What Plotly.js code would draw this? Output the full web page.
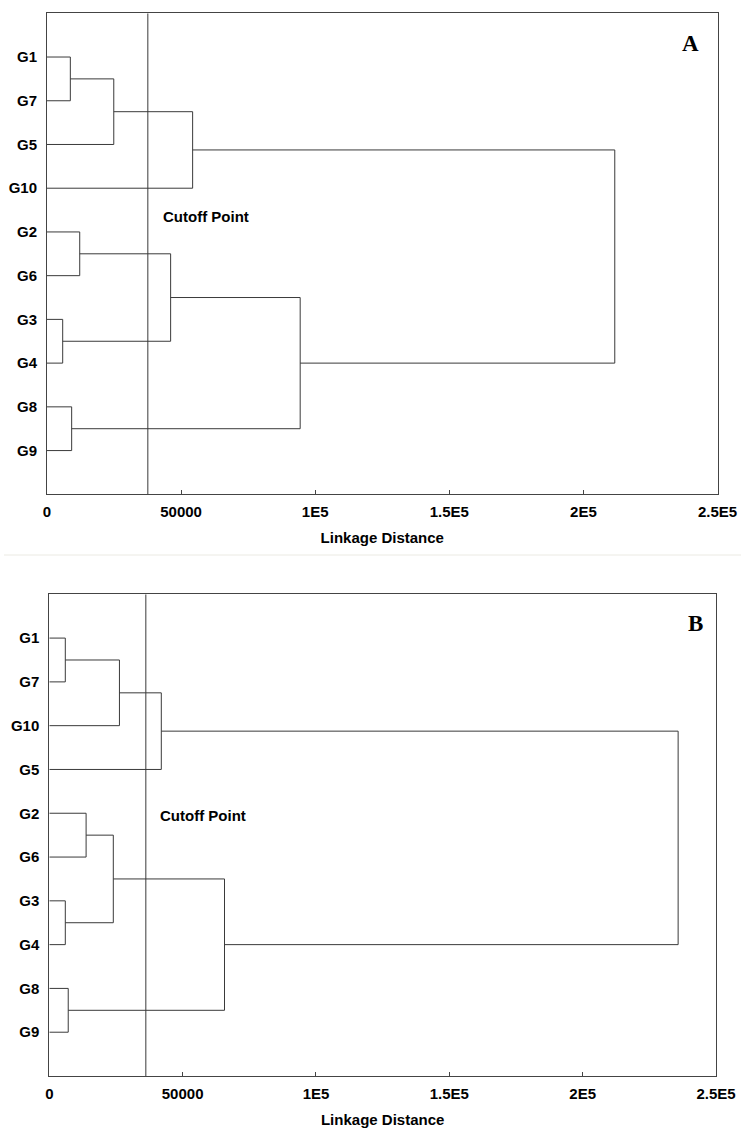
<!DOCTYPE html>
<html>
<head>
<meta charset="utf-8">
<script src="https://cdn.plot.ly/plotly-3.0.1.min.js"></script>
<style>html,body{margin:0;padding:0;background:#fff;}#chart{width:741px;height:1130px;}</style>
</head>
<body>
<div id="chart"></div>
<script>
// ---- Panel A data ----
const leavesA = ['G1','G7','G5','G10','G2','G6','G3','G4','G8','G9'];
const mergeLeftA  = ['G1','A1','A2','G2','G3','A4','G8','A6','A3'];
const mergeRightA = ['G7','G5','G10','G6','G4','A5','G9','A7','A8'];
const mergeHeightA = [8700, 24900, 54300, 12200, 5850, 46100, 9200, 94400, 211700];
const cutoffA = 37600;

// ---- Panel B data ----
const leavesB = ['G1','G7','G10','G5','G2','G6','G3','G4','G8','G9'];
const mergeLeftB  = ['G1','B1','B2','G2','G3','B4','G8','B6','B3'];
const mergeRightB = ['G7','G10','G5','G6','G4','B5','G9','B7','B8'];
const mergeHeightB = [6000, 26300, 42000, 13800, 6000, 24000, 7100, 65700, 235800];
const cutoffB = 36200;

const xTickVals = [0, 50000, 100000, 150000, 200000, 250000];
const xTickText = ['0', '50000', '1E5', '1.5E5', '2E5', '2.5E5'];
const xTitle = 'Linkage Distance';
const cutoffLabel = 'Cutoff Point';
const panelLabels = ['A', 'B'];

function dendro(leaves, lefts, rights, heights, prefix) {
  const pos = {};
  leaves.forEach((n, i) => { pos[n] = {y: i + 1, h: 0}; });
  const xs = [], ys = [];
  for (let k = 0; k < heights.length; k++) {
    const a = pos[lefts[k]], b = pos[rights[k]], h = heights[k];
    xs.push(a.h, h, h, b.h, null);
    ys.push(a.y, a.y, b.y, b.y, null);
    pos[prefix + (k + 1)] = {y: (a.y + b.y) / 2, h: h};
  }
  return {xs, ys};
}

const dA = dendro(leavesA, mergeLeftA, mergeRightA, mergeHeightA, 'A');
const dB = dendro(leavesB, mergeLeftB, mergeRightB, mergeHeightB, 'B');

const lineStyle = {color: '#3a3a3a', width: 1};
const nLeaf = leavesA.length;

const traces = [
  {x: dA.xs, y: dA.ys, xaxis: 'x', yaxis: 'y', mode: 'lines', line: lineStyle, hoverinfo: 'skip', showlegend: false},
  {x: [cutoffA, cutoffA], y: [0, nLeaf + 1], xaxis: 'x', yaxis: 'y', mode: 'lines', line: lineStyle, hoverinfo: 'skip', showlegend: false},
  {x: dB.xs, y: dB.ys, xaxis: 'x2', yaxis: 'y2', mode: 'lines', line: lineStyle, hoverinfo: 'skip', showlegend: false},
  {x: [cutoffB, cutoffB], y: [0, nLeaf + 1], xaxis: 'x2', yaxis: 'y2', mode: 'lines', line: lineStyle, hoverinfo: 'skip', showlegend: false}
];

const W = 741, H = 1130;
const tickFont = {family: 'Arial, "Liberation Sans", sans-serif', size: 15, color: '#000', weight: 'bold'};

function xaxis(l, r, anchor) {
  return {
    domain: [l / W, r / W], anchor: anchor, range: [0, 250000],
    tickvals: xTickVals, ticktext: xTickText,
    ticks: 'inside', ticklen: 4, tickcolor: '#444', tickwidth: 1,
    showline: true, linecolor: '#444', linewidth: 1, mirror: true,
    showgrid: false, zeroline: false, tickfont: tickFont,
    ticklabelstandoff: 4,
    title: {text: xTitle, font: tickFont, standoff: 13}
  };
}
function yaxis(top, bottom, anchor, leaves) {
  return {
    domain: [1 - bottom / H, 1 - top / H], anchor: anchor, range: [leaves.length + 1, 0],
    tickvals: leaves.map((_, i) => i + 1), ticktext: leaves,
    ticks: '', showline: true, linecolor: '#444', linewidth: 1, mirror: true,
    showgrid: false, zeroline: false, tickfont: tickFont, ticklabelstandoff: 6
  };
}

const layout = {
  width: W, height: H,
  margin: {l: 0, r: 0, t: 0, b: 0},
  paper_bgcolor: '#fff', plot_bgcolor: '#fff',
  showlegend: false,
  xaxis: xaxis(47, 717.5, 'y'),
  yaxis: yaxis(13.3, 494.3, 'x', leavesA),
  xaxis2: xaxis(49.3, 716, 'y2'),
  yaxis2: yaxis(594.3, 1076, 'x2', leavesB),
  shapes: [
    {type: 'line', xref: 'paper', yref: 'paper', x0: 4 / W, x1: 1, y0: 1 - 555 / H, y1: 1 - 555 / H,
     line: {color: '#ebeae3', width: 1}}
  ],
  annotations: [
    {xref: 'x', yref: 'y', x: 42500, y: 4.65, text: cutoffLabel, showarrow: false, xanchor: 'left', yanchor: 'middle', font: tickFont},
    {xref: 'x2', yref: 'y2', x: 40800, y: 5.06, text: cutoffLabel, showarrow: false, xanchor: 'left', yanchor: 'middle', font: tickFont},
    {xref: 'paper', yref: 'paper', x: 690.7 / W, y: 1 - 44 / H, text: panelLabels[0], showarrow: false, xanchor: 'center', yanchor: 'middle',
     font: {family: '"Times New Roman", "Liberation Serif", serif', size: 23, color: '#000', weight: 'bold'}},
    {xref: 'paper', yref: 'paper', x: 695 / W, y: 1 - 623.7 / H, text: panelLabels[1], showarrow: false, xanchor: 'center', yanchor: 'middle',
     font: {family: '"Times New Roman", "Liberation Serif", serif', size: 23, color: '#000', weight: 'bold'}}
  ]
};

Plotly.newPlot('chart', traces, layout, {displayModeBar: false, staticPlot: true});
</script>
</body>
</html>
